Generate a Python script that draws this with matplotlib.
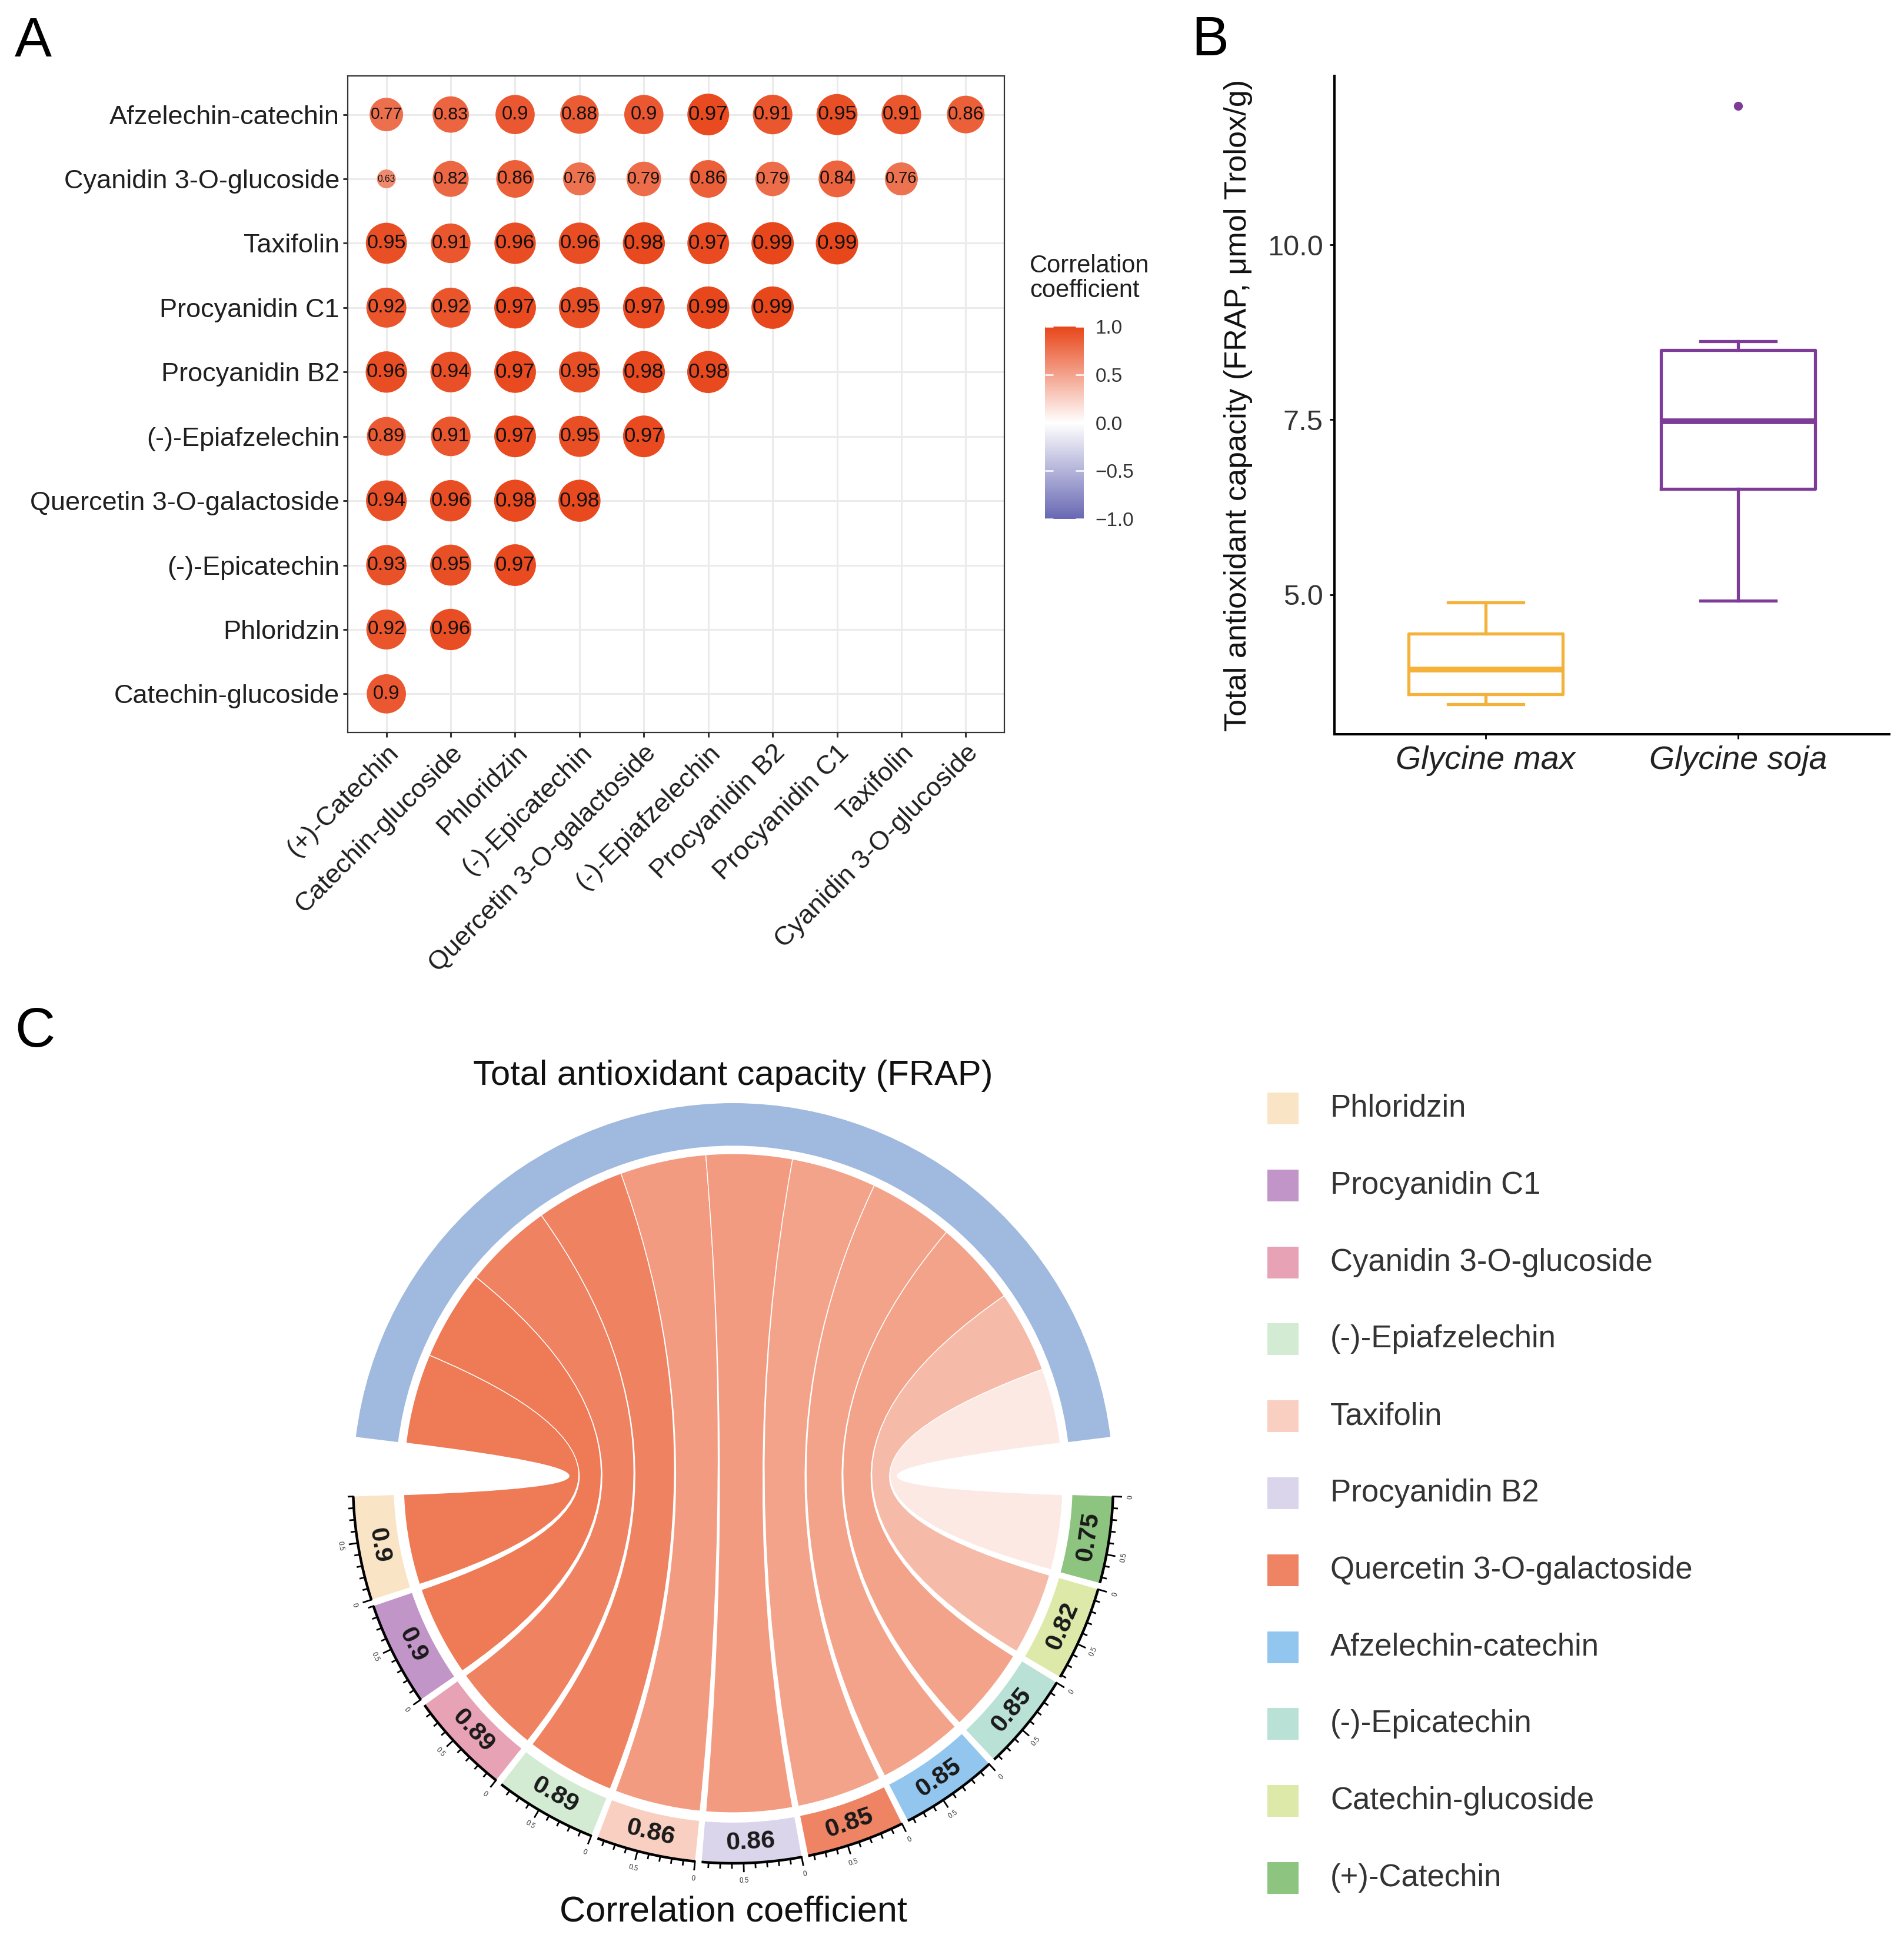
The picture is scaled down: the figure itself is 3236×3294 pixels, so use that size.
import numpy as np
import matplotlib
matplotlib.use('Agg')
import matplotlib.pyplot as plt
from matplotlib.colors import LinearSegmentedColormap, Normalize, PowerNorm
from matplotlib.cm import ScalarMappable
from matplotlib.patches import Wedge, PathPatch, Rectangle
from matplotlib.path import Path

plt.rcParams['font.family'] = ['Liberation Sans', 'DejaVu Sans']

W, H = 3237, 3294

# ---------------- data: panel A (lower triangle of correlations)
row_names = ['Afzelechin-catechin', 'Cyanidin 3-O-glucoside', 'Taxifolin',
             'Procyanidin C1', 'Procyanidin B2', '(-)-Epiafzelechin',
             'Quercetin 3-O-galactoside', '(-)-Epicatechin', 'Phloridzin',
             'Catechin-glucoside']
col_names = ['(+)-Catechin', 'Catechin-glucoside', 'Phloridzin', '(-)-Epicatechin',
             'Quercetin 3-O-galactoside', '(-)-Epiafzelechin', 'Procyanidin B2',
             'Procyanidin C1', 'Taxifolin', 'Cyanidin 3-O-glucoside']
corr_rows = [
    [0.77, 0.83, 0.9, 0.88, 0.9, 0.97, 0.91, 0.95, 0.91, 0.86],
    [0.63, 0.82, 0.86, 0.76, 0.79, 0.86, 0.79, 0.84, 0.76],
    [0.95, 0.91, 0.96, 0.96, 0.98, 0.97, 0.99, 0.99],
    [0.92, 0.92, 0.97, 0.95, 0.97, 0.99, 0.99],
    [0.96, 0.94, 0.97, 0.95, 0.98, 0.98],
    [0.89, 0.91, 0.97, 0.95, 0.97],
    [0.94, 0.96, 0.98, 0.98],
    [0.93, 0.95, 0.97],
    [0.92, 0.96],
    [0.9],
]
cbar_ticks = [-1.0, -0.5, 0.0, 0.5, 1.0]

# ---------------- data: panel B (box plot statistics)
species = ['Glycine max', 'Glycine soja']
box_whislo = [3.43, 4.91]
box_q1 = [3.57, 6.51]
box_med = [3.93, 7.48]
box_q3 = [4.44, 8.50]
box_whishi = [4.89, 8.62]
box_fliers = [[], [11.99]]
box_colors = ['#F4B23A', '#7D3C98']

# ---------------- data: panel C (chord diagram)
frap_name = 'Total antioxidant capacity (FRAP)'
chord_names = ['Phloridzin', 'Procyanidin C1', 'Cyanidin 3-O-glucoside',
               '(-)-Epiafzelechin', 'Taxifolin', 'Procyanidin B2',
               'Quercetin 3-O-galactoside', 'Afzelechin-catechin',
               '(-)-Epicatechin', 'Catechin-glucoside', '(+)-Catechin']
chord_vals = [0.9, 0.9, 0.89, 0.89, 0.86, 0.86, 0.85, 0.85, 0.85, 0.82, 0.75]
seg_colors = ['#FAE4C6', '#C295C8', '#E8A2B6', '#D4EBD3', '#F8CFC1', '#DAD5EA',
              '#EE8464', '#93C6EE', '#B9E1D5', '#DDE9A8', '#8DC47F']

fig = plt.figure(figsize=(W / 100, H / 100), dpi=100)

# =============== Panel A
ax_a = fig.add_axes([591 / W, 1 - 1245 / H, (1707 - 591) / W, (1245 - 129) / H])
corr_cmap = LinearSegmentedColormap.from_list('corr', ['#6868B4', '#FFFFFF', '#E8461A'])
corr_norm = Normalize(-1, 1)

xs, ys, vs = [], [], []
n = len(row_names)
for i, row in enumerate(corr_rows):
    for j, v in enumerate(row):
        xs.append(j)
        ys.append(n - 1 - i)
        vs.append(v)
xs, ys, vs = np.array(xs), np.array(ys), np.array(vs)
frac = np.sqrt((vs - vs.min()) / (vs.max() - vs.min()))
diam_px = 32 + 40 * frac
ax_a.scatter(xs, ys, s=(diam_px * 0.72) ** 2, c=vs, cmap=corr_cmap, norm=corr_norm,
             linewidths=0, zorder=3)
for x, y, v, d in zip(xs, ys, vs, diam_px):
    ax_a.text(x, y, f'{v:g}', ha='center', va='center', fontsize=0.49 * d * 0.72,
              color='#111111', zorder=4)

ax_a.set_xlim(-0.6, n - 0.4)
ax_a.set_ylim(-0.6, n - 0.4)
ax_a.set_xticks(range(n))
ax_a.set_xticklabels(col_names, rotation=45, ha='right', va='top', rotation_mode='anchor')
ax_a.set_yticks(range(n))
ax_a.set_yticklabels(row_names[::-1])
ax_a.set_axisbelow(True)
ax_a.grid(color='#EBEBEB', lw=2.2)
ax_a.tick_params(length=6, width=2.2, color='#333333', labelsize=32.5, labelcolor='#1F1F1F', pad=4)
for sp in ax_a.spines.values():
    sp.set_color('#333333')
    sp.set_linewidth(1.6)

cax = fig.add_axes([1776 / W, 1 - 882 / H, 66 / W, 327 / H])
cbar = fig.colorbar(ScalarMappable(norm=corr_norm, cmap=corr_cmap), cax=cax)
cbar.outline.set_visible(False)
cbar.set_ticks(cbar_ticks)
cbar.set_ticklabels([f'{t:.1f}'.replace('-', '\u2212') for t in cbar_ticks])
cax.tick_params(labelsize=24, labelcolor='#333333', color='white', direction='in',
                length=10, width=1.8, left=True, right=True, pad=14)
fig.text(1750 / W, 1 - 432 / H, 'Correlation\ncoefficient', ha='left', va='top',
         fontsize=30, color='#1F1F1F', linespacing=1.05)

# =============== Panel B
ax_b = fig.add_axes([2268 / W, 1 - 1248 / H, (3211 - 2268) / W, (1248 - 129) / H])
stats = []
for k in range(len(species)):
    stats.append(dict(label=species[k], whislo=box_whislo[k], q1=box_q1[k], med=box_med[k],
                      q3=box_q3[k], whishi=box_whishi[k], fliers=box_fliers[k]))
arts = ax_b.bxp(stats, positions=[1, 2], widths=0.61, capwidths=0.3, showfliers=True)
for k, col in enumerate(box_colors):
    arts['boxes'][k].set(color=col, lw=3.8)
    arts['medians'][k].set(color=col, lw=7, solid_capstyle='butt')
    for ln in arts['whiskers'][2 * k:2 * k + 2] + arts['caps'][2 * k:2 * k + 2]:
        ln.set(color=col, lw=3.8)
    arts['fliers'][k].set(marker='o', markerfacecolor=col, markeredgecolor=col, markersize=10)

all_vals = box_whislo + box_whishi + [f for fl in box_fliers for f in fl]
lo, hi = min(all_vals), max(all_vals)
ax_b.set_ylim(lo - 0.05 * (hi - lo), hi + 0.05 * (hi - lo))
ax_b.set_xlim(0.4, 2.6)
ax_b.set_yticks([5.0, 7.5, 10.0])
ax_b.set_yticklabels(['5.0', '7.5', '10.0'])
ax_b.set_xticklabels(species, fontstyle='italic', fontsize=40, color='#222222')
ax_b.tick_params(axis='y', labelsize=35, labelcolor='#333333')
ax_b.tick_params(length=6, width=2, color='black', pad=8)
for s in ['top', 'right']:
    ax_b.spines[s].set_visible(False)
for s in ['left', 'bottom']:
    ax_b.spines[s].set_linewidth(2.9)
ax_b.set_ylabel('Total antioxidant capacity (FRAP, \u03bcmol Trolox/g)', fontsize=37.5,
                color='#111111')
ax_b.yaxis.set_label_coords(-0.147, 0.5)

# =============== Panel C (chord diagram drawn in pixel coordinates)
ax_c = fig.add_axes([0, 0, 1, 1])
ax_c.set_xlim(0, W)
ax_c.set_ylim(0, H)
ax_c.axis('off')
ax_c.set_facecolor('none')

cx, cy, R = 1246, H - 2521, 646
rc = 0.867 * R
big_gap, small_gap = 9.0, 1.0
total = sum(chord_vals)
nseg = len(chord_vals)
kdeg = (360 - 2 * big_gap - (nseg - 1) * small_gap) / (2 * total)
top_hi = 90 + total * kdeg / 2
top_lo = 90 - total * kdeg / 2


def pol(r, deg):
    a = np.radians(deg)
    return cx + r * np.cos(a), cy + r * np.sin(a)


def arc_pts(r, a0, a1, num=80):
    a = np.radians(np.linspace(a0, a1, num))
    return list(zip(cx + r * np.cos(a), cy + r * np.sin(a)))


ax_c.add_patch(Wedge((cx, cy), R, top_lo, top_hi, width=0.112 * R, color='#A0B9DF', lw=0))
ax_c.text(cx, H - 1844, frap_name, ha='center', va='baseline', fontsize=43, color='#111111')

chord_cmap = LinearSegmentedColormap.from_list('chord', ['#FFFFFF', '#EE7A56'])
chord_norm = PowerNorm(gamma=1.3, vmin=0.70, vmax=0.90)

s = top_hi + big_gap
cum = 0.0
for name, v, col in zip(chord_names, chord_vals, seg_colors):
    e = s + v * kdeg
    t_hi = top_hi - cum * kdeg
    t_lo = t_hi - v * kdeg
    # chord
    verts = arc_pts(rc, s, e)
    codes = [Path.MOVETO] + [Path.LINETO] * (len(verts) - 1)
    verts += [(cx, cy), pol(rc, t_lo)]
    codes += [Path.CURVE3, Path.CURVE3]
    top_arc = arc_pts(rc, t_lo, t_hi)[1:]
    verts += top_arc
    codes += [Path.LINETO] * len(top_arc)
    verts += [(cx, cy), pol(rc, s), pol(rc, s)]
    codes += [Path.CURVE3, Path.CURVE3, Path.CLOSEPOLY]
    ax_c.add_patch(PathPatch(Path(verts, codes), facecolor=chord_cmap(chord_norm(v)),
                             edgecolor='white', lw=1.0, zorder=2))
    # sector track
    ax_c.add_patch(Wedge((cx, cy), R, s, e, width=0.107 * R, color=col, lw=0, zorder=3))
    mid = (s + e) / 2
    tx, ty = pol(0.945 * R, mid)
    ax_c.text(tx, ty, f'{v:g}', ha='center', va='center', rotation=mid + 90,
              rotation_mode='anchor', fontsize=31, fontweight='bold', color='#1A1A1A', zorder=5)
    # axis along the sector (clockwise, 0 at the larger angle)
    ax_c.plot(*zip(*arc_pts(R, s, e)), color='black', lw=3.2, zorder=4, solid_capstyle='butt')
    for x in np.arange(0, v + 1e-9, 0.1):
        ang = e - x * kdeg
        major = abs(x) < 1e-9 or abs(x - 0.5) < 1e-9
        L = 14 if major else 8
        p0, p1 = pol(R, ang), pol(R + L, ang)
        ax_c.plot([p0[0], p1[0]], [p0[1], p1[1]], color='black', lw=2, zorder=4)
        if major:
            lx, ly = pol(R + 30, ang)
            ax_c.text(lx, ly, f'{x:g}', ha='center', va='center', rotation=ang + 90,
                      rotation_mode='anchor', fontsize=8.5, color='#333333')
    s = e + small_gap
    cum += v

ax_c.text(cx, H - 3266, 'Correlation coefficient', ha='center', va='baseline',
          fontsize=44, color='#111111')

# legend
for i, (name, col) in enumerate(zip(chord_names, seg_colors)):
    yc = H - (1884 + i * 130.8)
    ax_c.add_patch(Rectangle((2154, yc - 27), 53, 54, color=col, lw=0))
    ax_c.text(2261, yc, name, ha='left', va='center', fontsize=38, color='#333333')

# panel letters
fig.text(25 / W, 1 - 96 / H, 'A', fontsize=68, va='baseline', ha='left')
fig.text(2025 / W, 1 - 94 / H, 'B', fontsize=68, va='baseline', ha='left')
fig.text(25 / W, 1 - 1779 / H, 'C', fontsize=68, va='baseline', ha='left')

fig.savefig('out.png', dpi=100)
